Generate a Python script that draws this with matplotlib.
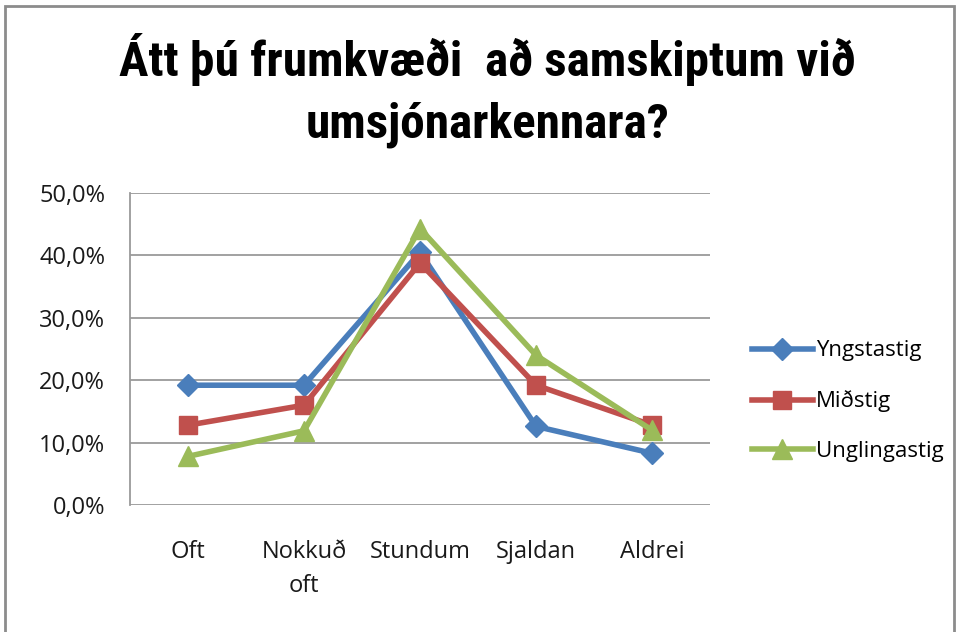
import matplotlib
matplotlib.use("Agg")
import matplotlib.pyplot as plt
from matplotlib.patches import Rectangle
from matplotlib.ticker import FuncFormatter

categories = ["Oft", "Nokkuð\noft", "Stundum", "Sjaldan", "Aldrei"]
yngstastig = [19.2, 19.2, 40.5, 12.6, 8.3]
midstig = [12.8, 16.0, 38.8, 19.2, 12.8]
unglingastig = [7.8, 11.9, 44.3, 24.0, 12.0]

plt.rcParams['font.family'] = ['Open Sans', 'DejaVu Sans']

fig = plt.figure(figsize=(9.59, 6.32), dpi=100)
fig.patches.append(Rectangle((0.005, -0.01), 0.99, 1.0, transform=fig.transFigure,
                             fill=False, edgecolor="#8c8c8c", linewidth=2))

ax = fig.add_axes([0.1356, 0.2009, 0.6048, 0.4937])
x = range(len(categories))
ax.plot(x, yngstastig, color="#4A7EBB", lw=4, marker="D", ms=11, label="Yngstastig")
ax.plot(x, midstig, color="#C0504D", lw=4, marker="s", ms=13, label="Miðstig")
ax.plot(x, unglingastig, color="#9BBB59", lw=4, marker="^", ms=14, label="Unglingastig")

ax.set_xlim(-0.5, 4.5)
ax.set_ylim(0, 50)
ax.set_yticks([0, 10, 20, 30, 40, 50])
ax.yaxis.set_major_formatter(FuncFormatter(lambda v, p: f"{v:.1f}%".replace(".", ",")))
ax.set_xticks(list(x))
ax.set_xticklabels(categories, linespacing=1.55, va="top")
ax.tick_params(axis="both", length=0, labelsize=17, colors="#1a1a1a")
ax.tick_params(axis="x", pad=25)
ax.tick_params(axis="y", pad=18)
ax.grid(axis="y", color="#9a9a9a", lw=1.3)
ax.set_axisbelow(True)
for s in ax.spines.values():
    s.set_visible(False)
ax.spines["left"].set_visible(True)
ax.spines["left"].set_color("#9a9a9a")
ax.spines["left"].set_linewidth(1.3)

fig.text(0.508, 0.857, "Átt þú frumkvæði  að samskiptum við\numsjónarkennara?",
         ha="center", va="center", fontsize=35.5, fontweight="bold", linespacing=1.42,
         family=['Roboto Condensed', 'Roboto', 'DejaVu Sans'])

fig.legend(loc="center left", bbox_to_anchor=(0.784, 0.365), frameon=False,
           fontsize=16, handlelength=2.75, handletextpad=0.12, labelspacing=1.3,
           borderaxespad=0, borderpad=0)

fig.savefig("out.png", dpi=100)
